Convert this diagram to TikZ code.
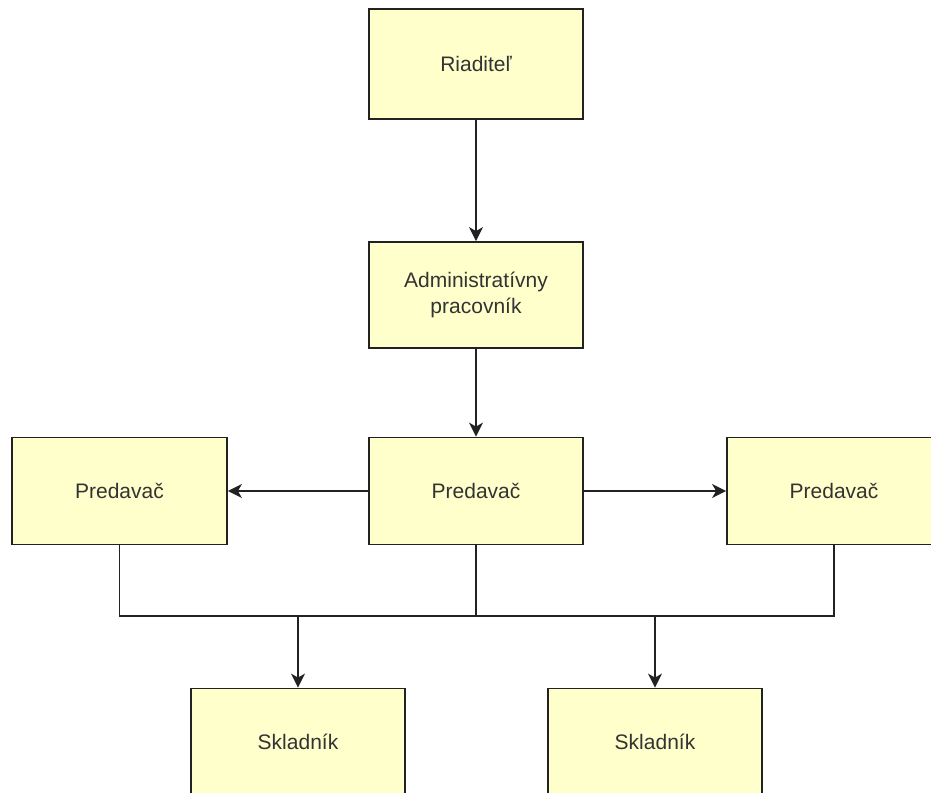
\documentclass[tikz,border=0pt]{standalone}
\usepackage{fontspec}
\setmainfont{Liberation Sans}
\usetikzlibrary{arrows.meta}
\definecolor{boxfill}{HTML}{FFFFCC}
\definecolor{boxline}{HTML}{222222}
\definecolor{txt}{HTML}{333333}
\tikzset{
  role/.style={draw=boxline, fill=boxfill, line width=1.8pt, rectangle,
    minimum width=214pt, minimum height=107pt, inner sep=0pt,
    text=txt, align=center, font=\fontsize{21}{26}\selectfont},
  link/.style={draw=boxline, line width=1.8pt},
  arr/.style={link, -{Stealth[length=14pt,width=14pt,inset=4pt]}}
}
\begin{document}
\begin{tikzpicture}[x=1pt,y=-1pt]
\useasboundingbox (0,0) rectangle (931,792);
\clip (0,0) rectangle (931,792);
\fill[white] (0,0) rectangle (931,792);

% org chart boxes
\node[role, minimum height=110pt] (rid) at (476,64) {Riaditeľ};
\node[role, minimum height=106pt] (adm) at (476,295) {Administratívny\\pracovník};
\node[role] (pm) at (476,491) {Predavač};
\node[role, minimum width=215pt] (pl) at (119.5,491) {Predavač};
\node[role] (pr) at (834,491) {Predavač};
\node[role] (sl) at (298,742) {Skladník};
\node[role] (sr) at (655,742) {Skladník};

% shared bus below the sales staff
\coordinate (busL) at (pl.south |- 0,616);
\coordinate (busM) at (pm.south |- 0,616);
\coordinate (busR) at (pr.south |- 0,616);
\coordinate (busSL) at (sl.north |- 0,616);
\coordinate (busSR) at (sr.north |- 0,616);

% connectors
\draw[arr] (rid.south) -- (adm.north);
\draw[arr] (adm.south) -- (pm.north);
\draw[arr] (pm.west) -- (pl.east);
\draw[arr] (pm.east) -- (pr.west);
\draw[link] (pl.south) -- (busL) -- (busR) -- (pr.south);
\draw[link] (pm.south) -- (busM);
\draw[arr] (busSL) -- (sl.north);
\draw[arr] (busSR) -- (sr.north);
\end{tikzpicture}
\end{document}
